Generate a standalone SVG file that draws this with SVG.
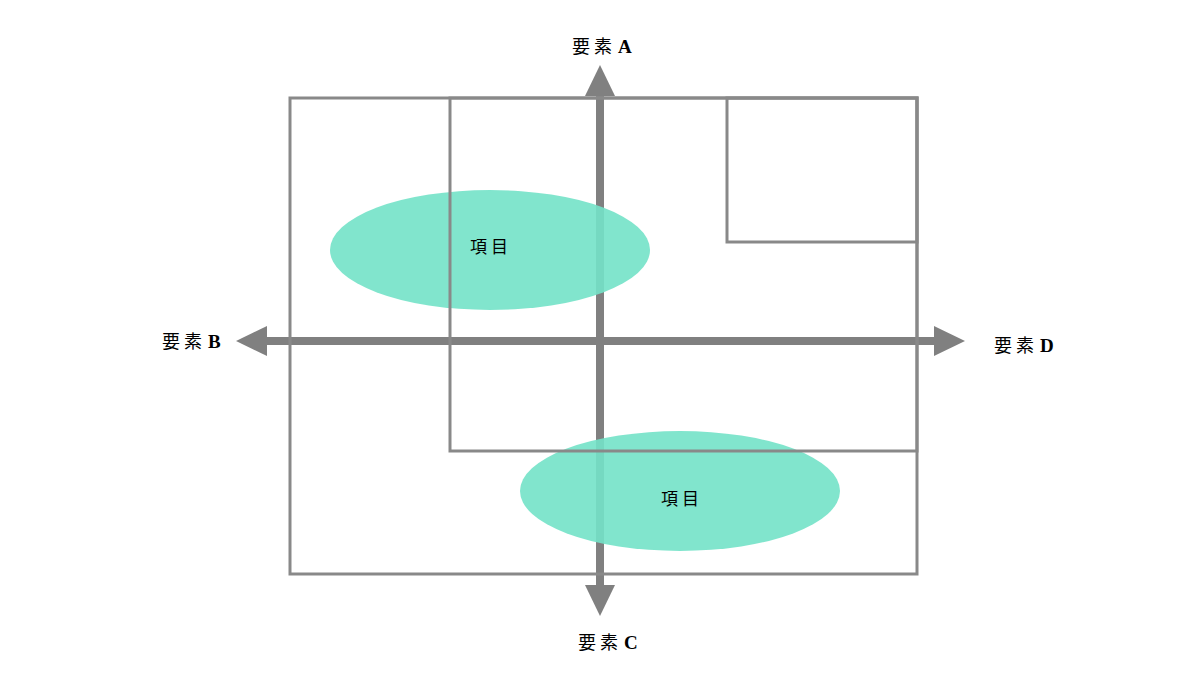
<svg xmlns="http://www.w3.org/2000/svg" width="1200" height="680" viewBox="0 0 1200 680">
<style>
.box{fill:none;stroke:#898989;stroke-width:3}
.axis{stroke:#808080;stroke-width:8}
.head{fill:#808080}
.ell{fill:#73E2C8;fill-opacity:0.9}
.lbl{font-family:"Liberation Serif","Noto Sans CJK JP",serif;font-size:18px;fill:#000;letter-spacing:4px}
.lbl tspan.l{font-weight:bold;letter-spacing:0;font-size:19px}
.item{font-family:"Noto Sans CJK JP",sans-serif;font-size:17px;fill:#000;letter-spacing:4px}
</style>
<rect width="1200" height="680" fill="#fff"/>
<g id="connectors">
<line class="axis" x1="600" y1="92" x2="600" y2="590"/>
<polygon class="head" points="600,65 615,96 585,96"/>
<polygon class="head" points="600,616 615,585 585,585"/>
<line class="axis" x1="262" y1="341" x2="940" y2="341"/>
<polygon class="head" points="236,341 267,326 267,356"/>
<polygon class="head" points="965,341 934,326 934,356"/>
</g>
<g id="item1">
<ellipse class="ell" cx="490" cy="250" rx="160" ry="60"/>
<text class="item" x="470" y="253">項目</text>
</g>
<g id="item2">
<ellipse class="ell" cx="680" cy="491" rx="160" ry="60"/>
<text class="item" x="661" y="505">項目</text>
</g>
<g id="outer"><rect class="box" x="290" y="98" width="627" height="476"/></g>
<g id="inner"><rect class="box" x="450" y="98" width="467" height="353"/></g>
<g id="small"><rect class="box" x="727" y="98" width="190" height="144"/></g>
<g id="labelA"><text class="lbl" x="572" y="53">要素<tspan class="l" dx="2">A</tspan></text></g>
<g id="labelB"><text class="lbl" x="162" y="348">要素<tspan class="l" dx="2">B</tspan></text></g>
<g id="labelD"><text class="lbl" x="994" y="352">要素<tspan class="l" dx="2">D</tspan></text></g>
<g id="labelC"><text class="lbl" x="578" y="649">要素<tspan class="l" dx="2">C</tspan></text></g>
</svg>
